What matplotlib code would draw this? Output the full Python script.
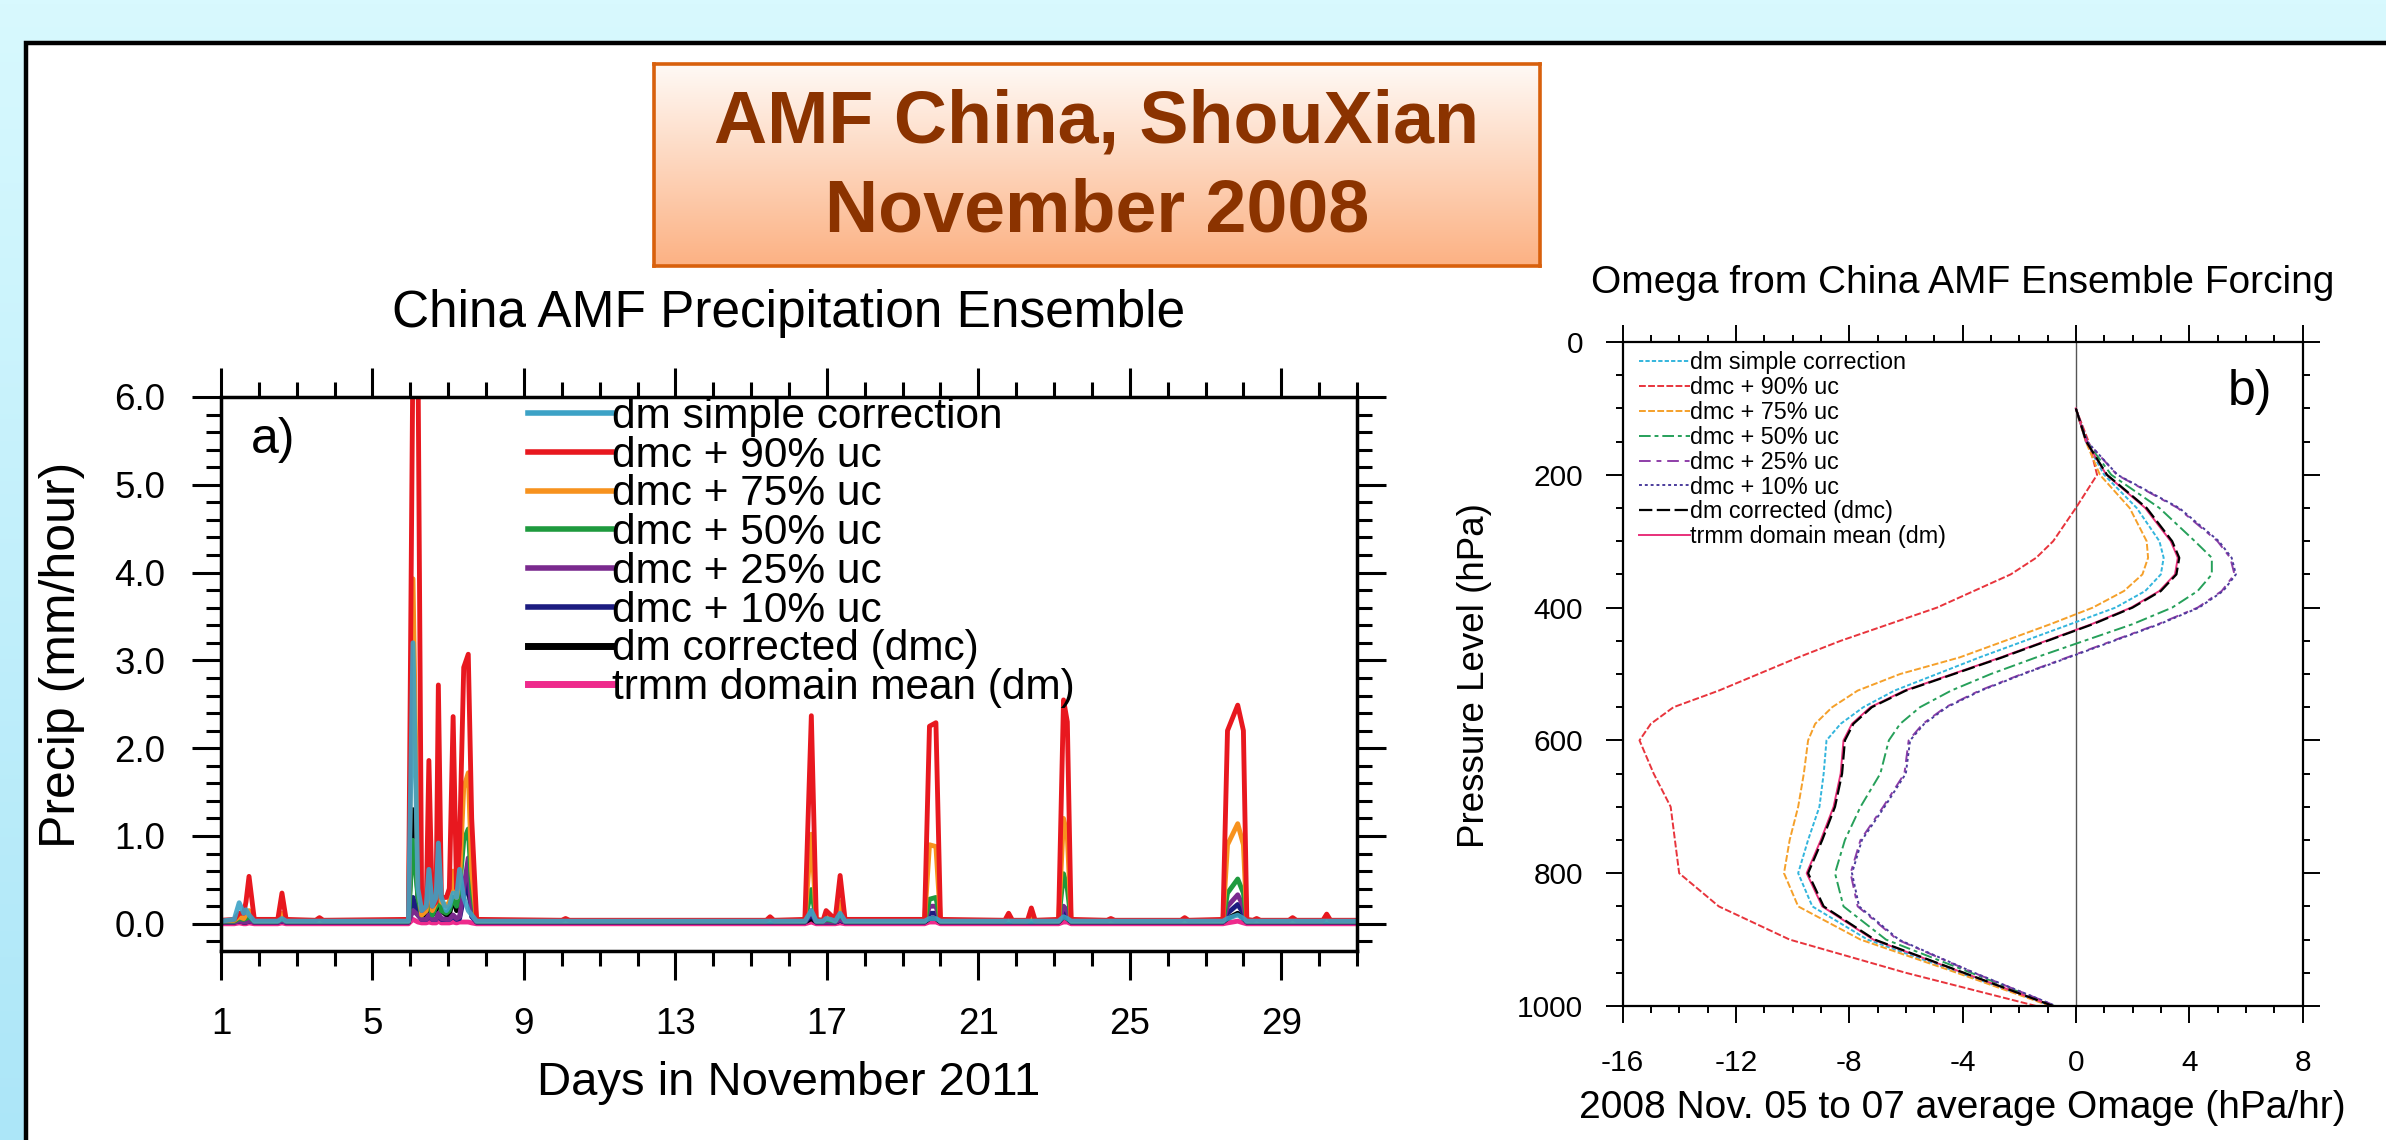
import numpy as np
import matplotlib
matplotlib.use("Agg")
import matplotlib.pyplot as plt
from matplotlib.patches import Rectangle
from matplotlib.colors import LinearSegmentedColormap
from matplotlib.ticker import MultipleLocator, FixedLocator, FormatStrFormatter

plt.rcParams['font.family'] = ['Liberation Sans', 'DejaVu Sans']
plt.rcParams['axes.unicode_minus'] = False

W, H = 2386, 1140

############################################################################
#                 panel a: precipitation ensemble (mm/hour)                #
############################################################################

days = [1.00, 1.35, 1.48, 1.60, 1.66, 1.74, 1.88, 2.50, 2.61, 2.72,
        3.50, 3.60, 3.70, 5.95, 6.07, 6.20, 6.30, 6.42, 6.49, 6.58,
        6.68, 6.74, 6.82, 6.95, 7.03, 7.13, 7.22, 7.30, 7.41, 7.53,
        7.62, 7.75, 10.00, 10.10, 10.20, 15.40, 15.50, 15.60, 16.42, 16.59,
        16.72, 16.90, 16.98, 17.10, 17.22, 17.35, 17.48, 19.58, 19.71, 19.88,
        20.00, 21.70, 21.80, 21.90, 22.30, 22.40, 22.50, 23.12, 23.25, 23.35,
        23.45, 24.40, 24.50, 24.60, 26.35, 26.45, 26.55, 27.46, 27.58, 27.85,
        28.00, 28.09, 28.25, 28.35, 28.45, 29.20, 29.30, 29.40, 30.10, 30.20,
        30.30, 31.00]

pr_simple = [.03, .05, .24, .12, .16, .10, .03, .03, .06, .03,
             .03, .03, .03, .03, 3.2, .40, .15, .20, .62, .20,
             .30, .92, .30, .15, .20, .35, .30, .62, .30, .15,
             .10, .03, .03, .03, .03, .03, .03, .03, .03, .15,
             .03, .03, .06, .05, .03, .12, .03, .03, .06, .06,
             .03, .03, .03, .03, .03, .03, .03, .03, .08, .06,
             .03, .03, .03, .03, .03, .03, .03, .03, .06, .10,
             .06, .03, .03, .03, .03, .03, .03, .03, .03, .03,
             .03, .03]
pr_uc90 = [.04, .05, .12, .12, .25, .54, .05, .05, .35, .05,
           .04, .07, .04, .05, 6.6, 6.6, .15, .20, 1.86, .20,
           .25, 2.72, .30, .30, .40, 2.36, .40, .90, 2.92, 3.07,
           1.20, .05, .04, .06, .04, .04, .08, .04, .05, 2.37,
           .05, .04, .15, .10, .05, .55, .05, .05, 2.25, 2.29,
           .05, .04, .12, .04, .04, .18, .04, .05, 2.55, 2.30,
           .05, .04, .06, .04, .04, .07, .04, .05, 2.20, 2.49,
           2.20, .05, .04, .06, .04, .04, .07, .04, .04, .11,
           .04, .04]
pr_uc75 = [.035, .04, .08, .06, .10, .15, .035, .035, .12, .035,
           .035, .035, .035, .035, 3.93, .50, .10, .15, .60, .15,
           .25, .99, .25, .20, .25, .60, .30, .50, 1.55, 1.72,
           .60, .035, .035, .035, .035, .035, .05, .035, .035, 1.02,
           .035, .035, .08, .06, .035, .25, .035, .035, .90, .88,
           .035, .035, .05, .035, .035, .07, .035, .035, 1.20, 1.00,
           .035, .035, .035, .035, .035, .035, .035, .035, .90, 1.14,
           .90, .035, .035, .035, .035, .035, .035, .035, .035, .05,
           .035, .035]
pr_uc50 = [.03, .03, .06, .05, .06, .08, .03, .03, .06, .03,
           .03, .03, .03, .03, .95, .30, .10, .15, .35, .10,
           .20, .50, .15, .12, .15, .30, .20, .40, .95, 1.08,
           .40, .03, .03, .03, .03, .03, .03, .03, .03, .39,
           .03, .03, .05, .04, .03, .12, .03, .03, .28, .30,
           .03, .03, .03, .03, .03, .03, .03, .03, .57, .40,
           .03, .03, .03, .03, .03, .03, .03, .03, .35, .51,
           .35, .03, .03, .03, .03, .03, .03, .03, .03, .03,
           .03, .03]
pr_uc25 = [.02, .02, .03, .02, .02, .03, .02, .02, .03, .02,
           .02, .02, .02, .02, .15, .10, .05, .05, .10, .05,
           .05, .12, .06, .05, .05, .10, .06, .08, .40, .75,
           .10, .02, .02, .02, .02, .02, .02, .02, .02, .15,
           .02, .02, .02, .02, .02, .05, .02, .02, .20, .20,
           .02, .02, .02, .02, .02, .02, .02, .02, .20, .15,
           .02, .02, .02, .02, .02, .02, .02, .02, .20, .33,
           .20, .02, .02, .02, .02, .02, .02, .02, .02, .02,
           .02, .02]
pr_uc10 = [.02, .02, .03, .02, .02, .03, .02, .02, .03, .02,
           .02, .02, .02, .02, .30, .10, .05, .05, .08, .05,
           .05, .10, .05, .05, .05, .08, .05, .06, .30, .50,
           .08, .02, .02, .02, .02, .02, .02, .02, .02, .10,
           .02, .02, .02, .02, .02, .04, .02, .02, .12, .12,
           .02, .02, .02, .02, .02, .02, .02, .02, .15, .10,
           .02, .02, .02, .02, .02, .02, .02, .02, .12, .22,
           .12, .02, .02, .02, .02, .02, .02, .02, .02, .02,
           .02, .02]
pr_dmc = [.02, .02, .03, .02, .02, .03, .02, .02, .03, .02,
          .02, .02, .02, .02, 1.30, .30, .10, .10, .45, .10,
          .15, .40, .15, .10, .10, .30, .15, .30, .35, .40,
          .15, .02, .02, .02, .02, .02, .02, .02, .02, .06,
          .02, .02, .02, .02, .02, .04, .02, .02, .06, .06,
          .02, .02, .02, .02, .02, .02, .02, .02, .08, .06,
          .02, .02, .02, .02, .02, .02, .02, .02, .06, .12,
          .06, .02, .02, .02, .02, .02, .02, .02, .02, .02,
          .02, .02]
pr_dm = [0, 0, .01, 0, 0, .01, 0, 0, .01, 0,
         0, 0, 0, 0, .05, .02, .01, .01, .02, .01,
         .01, .03, .01, .01, .01, .02, .01, .02, .02, .02,
         .01, 0, 0, 0, 0, 0, 0, 0, 0, .02,
         0, 0, 0, 0, 0, .01, 0, 0, .02, .02,
         0, 0, 0, 0, 0, 0, 0, 0, .02, .02,
         0, 0, 0, 0, 0, 0, 0, 0, .01, .03,
         .01, 0, 0, 0, 0, 0, 0, 0, 0, 0,
         0, 0]

############################################################################
#                 panel b: omega profiles (hPa/hr)                         #
############################################################################

levels = [100, 150, 200, 250, 300, 325, 350, 375, 400, 425, 450, 475, 500,
          525, 550, 575, 600, 650, 700, 750, 800, 850, 900, 950, 1000]

om_simple = [0, .35, 1.0, 2.15, 2.95, 3.1, 3.0, 2.45, 1.4, -.2, -1.8, -3.4, -4.9,
             -6.4, -7.5, -8.3, -8.8, -8.9, -9.05, -9.45, -9.8, -9.3, -7.35, -4.1, -.85]
om_uc90 = [0, .45, .75, 0.0, -.8, -1.4, -2.3, -3.6, -4.9, -6.6, -8.3, -9.8, -11.2,
           -12.6, -14.2, -15.0, -15.4, -14.9, -14.3, -14.15, -14.0, -12.6, -10.1, -6.0, -1.4]
om_uc75 = [0, .35, .85, 1.9, 2.5, 2.55, 2.35, 1.7, .6, -.9, -2.5, -4.1, -6.2,
           -7.7, -8.6, -9.2, -9.45, -9.6, -9.8, -10.1, -10.3, -9.8, -7.6, -4.2, -.9]
om_uc50 = [0, .38, 1.25, 2.95, 4.2, 4.8, 4.8, 4.3, 3.4, 2.0, .3, -1.4, -3.0,
           -4.4, -5.5, -6.2, -6.6, -6.9, -7.6, -8.15, -8.5, -8.2, -6.7, -3.7, -.75]
om_uc25 = [0, .4, 1.45, 3.6, 5.0, 5.45, 5.6, 5.15, 4.3, 2.9, 1.3, -.3, -1.9,
           -3.4, -4.6, -5.4, -5.9, -6.05, -6.8, -7.6, -7.95, -7.7, -6.3, -3.6, -.7]
om_uc10 = [0, .4, 1.47, 3.65, 5.05, 5.5, 5.65, 5.2, 4.35, 2.95, 1.35, -.25, -1.85,
           -3.35, -4.55, -5.35, -5.85, -6.0, -6.75, -7.55, -7.9, -7.65, -6.25, -3.58, -.7]
om_dmc = [0, .37, 1.1, 2.5, 3.4, 3.65, 3.55, 3.0, 2.0, .6, -1.0, -2.6, -4.3,
          -6.0, -7.2, -7.85, -8.15, -8.25, -8.5, -8.95, -9.45, -8.9, -7.1, -3.95, -.8]
om_dm = [0, .36, 1.08, 2.45, 3.35, 3.6, 3.5, 2.95, 1.95, .55, -1.05, -2.65, -4.35,
         -6.05, -7.25, -7.9, -8.2, -8.3, -8.55, -9.0, -9.5, -8.95, -7.15, -3.97, -.8]

labels = ['dm simple correction', 'dmc + 90% uc', 'dmc + 75% uc', 'dmc + 50% uc',
          'dmc + 25% uc', 'dmc + 10% uc', 'dm corrected (dmc)', 'trmm domain mean (dm)']

############################################################################
#                              figure / slide                              #
############################################################################

fig = plt.figure(figsize=(W / 100, H / 100), dpi=100)

# slide background gradient
bg = fig.add_axes([0, 0, 1, 1], zorder=-3)
bg_cmap = LinearSegmentedColormap.from_list('bg', ['#d8f9fe', '#ace6f8'])
bg.imshow(np.linspace(0, 1, 256)[:, None], aspect='auto', cmap=bg_cmap, extent=[0, 1, 0, 1])
bg.axis('off')

# white content panel
panel = Rectangle((26 / W, -0.05), 1.1, (H - 43) / H + 0.05, transform=fig.transFigure,
                  facecolor='white', edgecolor='black', linewidth=3.2, zorder=-2)
fig.add_artist(panel)

# orange header box
box = fig.add_axes([654 / W, 1 - 266 / H, 886 / W, 202 / H], zorder=2)
box_cmap = LinearSegmentedColormap.from_list('box', ['#fffaf6', '#fcb183'])
box.imshow(np.linspace(0, 1, 256)[:, None], aspect='auto', cmap=box_cmap, extent=[0, 1, 0, 1])
box.set_xticks([])
box.set_yticks([])
for s in box.spines.values():
    s.set_color('#d8600c')
    s.set_linewidth(2.6)
box.text(0.5, 0.708, 'AMF China, ShouXian', ha='center', va='center', fontsize=53,
         fontweight='bold', color='#8b3300', transform=box.transAxes)
box.text(0.5, 0.267, 'November 2008', ha='center', va='center', fontsize=53,
         fontweight='bold', color='#8b3300', transform=box.transAxes)

############################################################################
#                                panel a                                   #
############################################################################

axA = fig.add_axes([221 / W, 1 - 951 / H, 1136 / W, 554 / H])
colA = {'simple': '#3ca2c6', 'uc90': '#e8181f', 'uc75': '#f7921e', 'uc50': '#1e9a3e',
        'uc25': '#7a2a8e', 'uc10': '#1c1c80', 'dmc': 'black', 'dm': '#ee2a8c'}

hA = {}
hA['dm'], = axA.plot(days, pr_dm, color=colA['dm'], lw=3.5)
hA['dmc'], = axA.plot(days, pr_dmc, color=colA['dmc'], lw=3.5)
hA['uc10'], = axA.plot(days, pr_uc10, color=colA['uc10'], lw=3.5)
hA['uc25'], = axA.plot(days, pr_uc25, color=colA['uc25'], lw=3.5)
hA['uc50'], = axA.plot(days, pr_uc50, color=colA['uc50'], lw=3.5)
hA['uc75'], = axA.plot(days, pr_uc75, color=colA['uc75'], lw=3.5)
hA['uc90'], = axA.plot(days, pr_uc90, color=colA['uc90'], lw=3.5)
hA['simple'], = axA.plot(days, pr_simple, color=colA['simple'], lw=3.5, alpha=0.9)

axA.set_xlim(1, 31)
axA.set_ylim(-0.31, 6.0)
axA.xaxis.set_major_locator(FixedLocator([1, 5, 9, 13, 17, 21, 25, 29]))
axA.xaxis.set_minor_locator(MultipleLocator(1))
axA.yaxis.set_major_locator(MultipleLocator(1))
axA.yaxis.set_minor_locator(MultipleLocator(0.2))
axA.yaxis.set_major_formatter(FormatStrFormatter('%.1f'))
axA.tick_params(which='both', direction='out', top=True, right=True, width=2.2,
                labelsize=26.5, pad=19)
axA.tick_params(which='major', length=21)
axA.tick_params(which='minor', length=11)
for s in axA.spines.values():
    s.set_linewidth(2.5)

axA.set_title('China AMF Precipitation Ensemble', fontsize=37, y=1.150, va='center', pad=0)
axA.set_xlabel('Days in November 2011', fontsize=34, va='center')
axA.xaxis.set_label_coords(0.500, -0.238)
axA.set_ylabel('Precip (mm/hour)', fontsize=36, va='center')
axA.yaxis.set_label_coords(-0.140, 0.534)
axA.text(0.0458, 0.922, 'a)', fontsize=36, ha='center', va='center', transform=axA.transAxes)

order = ['simple', 'uc90', 'uc75', 'uc50', 'uc25', 'uc10', 'dmc', 'dm']
legA = axA.legend([hA[k] for k in order], labels, loc='upper left', bbox_to_anchor=(0.270, 1.0),
                  frameon=False, fontsize=30.5, handlelength=2.0, handletextpad=0,
                  borderpad=0, borderaxespad=0, labelspacing=-0.03)
for k, line in zip(order, legA.get_lines()):
    line.set_linewidth(5.0 if k in ('dmc', 'dm') else 4.0)
    line.set_alpha(1)

############################################################################
#                                panel b                                   #
############################################################################

axB = fig.add_axes([1622.5 / W, 1 - 1006 / H, 680 / W, 664 / H])
axB.axvline(0, color='#555555', lw=1.0, zorder=1)

hB = {}
hB['simple'], = axB.plot(om_simple, levels, color='#33b5dd', lw=1.4, dashes=(2.2, 1.1))
hB['uc90'], = axB.plot(om_uc90, levels, color='#e8343c', lw=1.4, dashes=(3.5, 1.2))
hB['uc75'], = axB.plot(om_uc75, levels, color='#f5a02a', lw=1.4, dashes=(3.5, 1.2))
hB['uc50'], = axB.plot(om_uc50, levels, color='#26a05a', lw=1.4, dashes=(6, 2, 2, 2))
hB['uc25'], = axB.plot(om_uc25, levels, color='#8e3ea8', lw=1.4, dashes=(6, 3, 2.5, 3))
hB['uc10'], = axB.plot(om_uc10, levels, color='#4b3c9c', lw=1.4, dashes=(1.5, 1.5))
hB['dm'], = axB.plot(om_dm, levels, color='#e8307a', lw=1.4)
hB['dmc'], = axB.plot(om_dmc, levels, color='black', lw=1.6, dashes=(6.0, 2.0))

axB.set_xlim(-16, 8)
axB.set_ylim(1000, 0)
axB.xaxis.set_major_locator(MultipleLocator(4))
axB.xaxis.set_minor_locator(MultipleLocator(1))
axB.yaxis.set_major_locator(MultipleLocator(200))
axB.yaxis.set_minor_locator(MultipleLocator(50))
axB.tick_params(which='both', direction='out', top=True, right=True, width=1.4,
                labelsize=21.5)
axB.tick_params(axis='x', pad=18.7)
axB.tick_params(axis='y', pad=16.5)
axB.tick_params(which='major', length=12)
axB.tick_params(which='minor', length=5)
for s in axB.spines.values():
    s.set_linewidth(1.6)

axB.set_title('Omega from China AMF Ensemble Forcing', fontsize=28, y=1.089, va='center', pad=0)
axB.set_xlabel('2008 Nov. 05 to 07 average Omage (hPa/hr)', fontsize=28, va='center')
axB.xaxis.set_label_coords(0.5, -0.1536)
axB.set_ylabel('Pressure Level (hPa)', fontsize=26.5, va='center')
axB.yaxis.set_label_coords(-0.217, 0.497)
axB.text(0.923, 0.925, 'b)', fontsize=36, ha='center', va='center', transform=axB.transAxes)

axB.legend([hB[k] for k in order], labels, loc='upper left', bbox_to_anchor=(0.024, 0.986),
           frameon=False, fontsize=16.8, handlelength=2.2, handletextpad=0,
           borderpad=0, borderaxespad=0, labelspacing=0.08)

fig.savefig('out.png', dpi=100)
